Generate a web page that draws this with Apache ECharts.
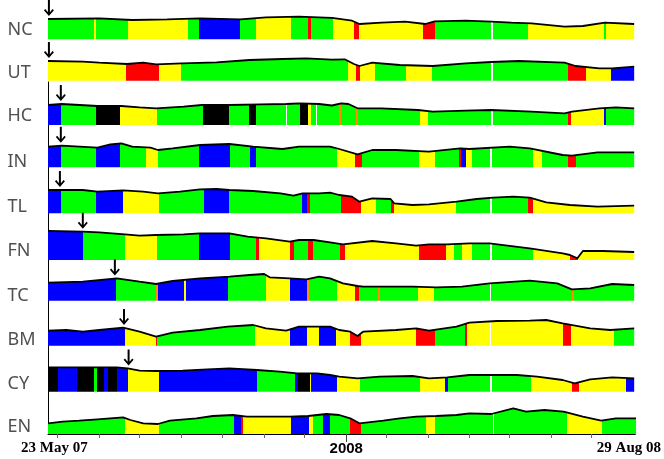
<!DOCTYPE html>
<html>
<head>
<meta charset="utf-8">
<script src="https://cdn.jsdelivr.net/npm/echarts@6/dist/echarts.min.js"></script>
<style>
  html, body { margin: 0; padding: 0; background: #fff; }
  #chart { width: 664px; height: 459px; }
</style>
</head>
<body>
<div id="chart"></div>
<script>
// trading-day index (0 = 23 May 07, 321 = 29 Aug 08) and index level
const rowNames = ['NC', 'UT', 'HC', 'IN', 'TL', 'FN', 'TC', 'BM', 'CY', 'EN'];

const ncLine = [[0,20.3],[28,21],[46,19.3],[65,20],[83,21],[105,20],[119,22],[137,22.6],[155,21.5],[166,18.6],[170,15.3],[182,16.6],[195,17.6],[206,15.3],[211,18],[228,18.6],[242,17.6],[253,16.6],[264,16],[282,12.6],[292,13.3],[304,16.6],[320,15.3]];
const utLine = [[0,19.7],[19,19],[28,18],[43,16.7],[52,18],[59,16.4],[73,17.4],[92,18.4],[110,20.7],[128,21.7],[141,22.4],[155,21],[162,21.4],[167,16.7],[170,14.7],[177,18],[192,15.7],[210,14.7],[228,17.4],[242,18.7],[257,19.7],[282,18],[288,14.7],[301,12.4],[308,12.4],[320,14]];
const hcLine = [[0,20],[7.5,21],[27,19],[40,19],[50,17.7],[59,16.7],[74,18.3],[84,20],[99,20],[116,20.7],[130,21],[137,21.7],[148,21],[155,19.5],[160,21.7],[164,21],[169,16.7],[182,16.7],[202,15],[210,13.3],[228,14.3],[242,15],[264,13.3],[282,11.7],[286,13.3],[301,16.7],[310,17.7],[320,16.7]];
const inLine = [[0,20.6],[7.5,21.6],[27,19.6],[34,23],[40,24],[46,20.6],[56,19.6],[60,17.3],[68,19],[83,22.3],[99,23.3],[112,20.6],[128,18.3],[137,20.6],[148,20.6],[154,20.6],[159,18.3],[169,13],[177,17.3],[190,17.3],[208,15.6],[225,19],[230,18.3],[252,20.6],[263,19],[281,12.3],[286,11.6],[300,15],[320,15]];
const tlLine = [[0,23.3],[7.5,23.3],[19,23.3],[27,21.6],[41,23],[52,21.6],[60,20],[72,21.6],[83,24],[92,24.3],[99,23.3],[112,22.3],[127,20],[134,17.6],[139,20],[148,20],[154,20.6],[159,18.3],[166,16.6],[170,11.6],[177,15],[187,14.3],[189,10],[199,8.3],[208,9],[223,11.6],[234,14.3],[243,15.6],[254,16.6],[263,15.6],[272,11],[285,8.3],[300,6.6],[320,7.6]];
const fnLine = [[0,29],[19,28.3],[28,27.7],[42,25.7],[50,24.3],[59,25],[74,25.7],[83,26.7],[99,26.7],[109,23.3],[119,21.7],[132,18.3],[137,20],[145,20],[154,17.7],[161,15.7],[177,19],[190,16.7],[201,14.3],[208,15.7],[218,15.7],[230,16.7],[241,16.7],[263,11.7],[281,6.7],[285,5],[289,1.7],[292,9],[303,9],[320,8]];
const tcLine = [[0,18],[19,19],[37.5,22.4],[50,19],[59,16.7],[68,19.7],[83,22.4],[99,24],[110,25.7],[118,26.7],[121,23.4],[132,22.4],[141,21.4],[148,24],[154,22.4],[161,17.4],[169,14.7],[172,14],[181,14],[199,14],[212,13.4],[226,14],[241,17.4],[263,20],[278,17.4],[286,11.4],[296,12.4],[308,16.7],[320,15.7]];
const bmLine = [[0,15],[10,15.7],[19,14],[28,15.7],[41,18],[50,14],[59,9],[68,13],[83,15.7],[98,19],[112,20.7],[119,17.4],[130,15],[137,19],[148,19],[154,19],[159,15.7],[165,14],[169,9.7],[172,14],[190,15.7],[201,17.4],[208,15],[223,19],[230,23],[245,24.7],[263,25],[272,25.7],[281,22.4],[296,17.4],[307,15.7],[320,17.4]];
const cyLine = [[0,24.4],[19,24.4],[37.5,24.4],[43.5,23.4],[50,21],[59,20.7],[73.5,21],[87,22.4],[99,23.4],[114,21.7],[126.5,20],[136,18.4],[147,18.4],[154,16.7],[159,15],[169,13.4],[181,15],[199,15.7],[208,13.4],[218,14.4],[230,16.7],[243,16.7],[256,16.7],[267,15],[281,11.7],[287.5,8.4],[296,12.4],[308,14.4],[320,13.4]];
const enLine = [[0,10.7],[8,12.3],[17,13.3],[27,14.7],[41,16.7],[45,14],[52,10.7],[60,10],[66.5,13.3],[81,15.7],[90,18],[101,19],[108.5,17.3],[121,17.3],[132,17.3],[142,18],[152,20],[159,19],[165,15.7],[170,10.7],[183,13.3],[192,15.7],[201,17.3],[212,18],[223,19],[230,20.7],[242,20],[254,25.7],[261,22.3],[271,24],[281.5,22.3],[292,17.3],[302,13.3],[310,15.7],[321,15.7]];

// regimes: [day where the segment ends, colour code]
const ncRegimes = [[25,'G'],[26.4,'Y'],[43.5,'G'],[76.3,'Y'],[82.3,'G'],[104.6,'B'],[113.4,'G'],[132.5,'Y'],[141.8,'G'],[143.4,'R'],[155.8,'G'],[167.3,'Y'],[169.8,'R'],[204.6,'Y'],[211,'R'],[241.9,'G'],[242.8,'W'],[261.9,'G'],[303.6,'Y'],[304.7,'G'],[321,'Y']];
const utRegimes = [[42.8,'Y'],[60.4,'R'],[72.5,'Y'],[163.6,'G'],[168,'Y'],[170.2,'R'],[178.5,'Y'],[195.3,'G'],[209.9,'Y'],[241.9,'G'],[242.8,'W'],[283.7,'G'],[293.6,'R'],[307.2,'Y'],[321,'B']];
const hcRegimes = [[7.3,'B'],[26.4,'G'],[39.5,'K'],[59.7,'Y'],[84.6,'G'],[98.8,'K'],[109.7,'G'],[113.4,'K'],[129.8,'G'],[130.5,'W'],[137.4,'G'],[142,'K'],[143.4,'Y'],[146.5,'G'],[147.1,'W'],[158.6,'G'],[159.7,'O'],[168,'G'],[169.5,'O'],[203,'G'],[207.7,'Y'],[241.9,'G'],[242.8,'W'],[283.7,'G'],[285.6,'R'],[303.4,'Y'],[304.5,'B'],[321,'G']];
const inRegimes = [[7.3,'B'],[26.4,'G'],[39.5,'B'],[53.7,'G'],[60,'Y'],[82.4,'G'],[99.2,'B'],[110.5,'G'],[113.4,'B'],[157.8,'G'],[167.5,'Y'],[171.4,'R'],[202.6,'G'],[211.1,'Y'],[224.4,'G'],[225.7,'R'],[228.1,'B'],[231.2,'Y'],[241.5,'G'],[242.4,'W'],[264.8,'G'],[269.9,'Y'],[283.9,'G'],[288.5,'R'],[321,'G']];
const tlRegimes = [[7.3,'B'],[26.4,'G'],[40.9,'B'],[60.4,'Y'],[85,'G'],[98.6,'B'],[138.5,'G'],[141.4,'B'],[142.9,'R'],[159.8,'G'],[170.6,'R'],[179.3,'Y'],[187.5,'G'],[188.7,'R'],[222.6,'Y'],[241.5,'G'],[242.4,'W'],[261.9,'G'],[264.8,'R'],[321,'Y']];
const fnRegimes = [[19.1,'B'],[41.9,'G'],[59.7,'Y'],[82.4,'G'],[99.2,'B'],[113.4,'G'],[115.2,'R'],[132,'Y'],[134.2,'R'],[142,'G'],[144.7,'R'],[159.3,'G'],[162,'R'],[202.6,'Y'],[217.2,'R'],[221.6,'Y'],[226.1,'G'],[231.2,'Y'],[241.5,'G'],[242.4,'W'],[264.8,'G'],[284.8,'Y'],[289.3,'R'],[321,'Y']];
const tcRegimes = [[37.3,'B'],[59.2,'G'],[60.3,'O'],[74.1,'B'],[75.6,'Y'],[98.3,'B'],[118.9,'G'],[132.3,'Y'],[141.4,'B'],[142.5,'O'],[157.5,'G'],[167.4,'Y'],[169.8,'R'],[179.9,'G'],[181.1,'O'],[202,'G'],[210.6,'Y'],[241.2,'G'],[242.1,'W'],[285.8,'G'],[287.2,'O'],[321,'G']];
const bmRegimes = [[41.9,'B'],[58.8,'Y'],[59.5,'R'],[112.9,'G'],[132,'Y'],[141.4,'B'],[148,'Y'],[157.1,'B'],[164.7,'Y'],[170.6,'R'],[201.1,'Y'],[211.1,'R'],[227.5,'G'],[228.8,'R'],[241.2,'Y'],[242.1,'W'],[281,'Y'],[285.4,'R'],[309,'Y'],[321,'G']];
const cyRegimes = [[5.6,'K'],[15.9,'B'],[25.2,'K'],[26.5,'G'],[30.7,'K'],[32.5,'B'],[37.5,'K'],[43.7,'B'],[60.6,'Y'],[114.2,'B'],[135.1,'G'],[136.6,'B'],[142.9,'K'],[143.8,'Y'],[157.8,'B'],[170.2,'Y'],[202.9,'G'],[217,'Y'],[218.1,'B'],[241.5,'G'],[242.4,'W'],[263.9,'G'],[285.8,'Y'],[289.9,'R'],[315.4,'Y'],[321,'B']];
const enRegimes = [[41.9,'G'],[60.6,'Y'],[101.4,'G'],[105.2,'B'],[106.5,'R'],[132.9,'Y'],[142.5,'B'],[144.4,'Y'],[150.2,'G'],[153.8,'B'],[164.7,'G'],[171.1,'R'],[206.2,'G'],[211.1,'Y'],[242.9,'G'],[243.6,'W'],[283.4,'G'],[302.5,'Y'],[321,'G']];

// detected change points (arrows), null = none
const arrowDays = [0.5, 0.5, 7, 7, 6.5, 19, 36.5, 41.5, 44, null];

const tickDays = [5, 28, 50, 73, 95, 118, 140, 163, 185, 208, 230, 252, 275, 297];
const labelDays = [3.5, 163, 317.5];
const tickLabels = ['23 May 07', '2008', '29 Aug 08'];

const lines = [ncLine, utLine, hcLine, inLine, tlLine, fnLine, tcLine, bmLine, cyLine, enLine];
const regimes = [ncRegimes, utRegimes, hcRegimes, inRegimes, tlRegimes, fnRegimes, tcRegimes, bmRegimes, cyRegimes, enRegimes];

// layout
const rowBottoms = [39.3, 80.7, 125, 167.3, 213.3, 260, 300.7, 345.7, 391.7, 434];
const labelCenters = [29.5, 73, 116, 161.7, 206.5, 250.5, 295.5, 339.5, 383.5, 427];
const palette = { G: '#00ff00', Y: '#ffff00', B: '#0000ff', R: '#ff0000', K: '#000000', O: '#ff8c00', W: '#ffffff' };
const plotLeft = 48, plotWidth = 588, rowH = 36, dayMax = 321;
const arrowPath = 'path://M4,0 L6,0 L6,12.2 L8.6,9 L10,10.2 L5,16 L0,10.2 L1.4,9 L4,12.2 Z';

// level of a row's line at a given day (for placing the arrow above it)
function levelAt(line, day) {
    for (let k = 1; k < line.length; k++) {
        if (line[k][0] >= day) {
            const a = line[k - 1], b = line[k];
            return a[1] + (b[1] - a[1]) * (day - a[0]) / (b[0] - a[0]);
        }
    }
    return line[line.length - 1][1];
}

const chart = echarts.init(document.getElementById('chart'));

const grid = rowBottoms.map(b => ({ left: plotLeft, width: plotWidth, top: b - rowH, height: rowH }));
grid.push({ left: plotLeft, width: plotWidth, top: 82, height: 434 - 82 });
const frame = grid.length - 1;

const xAxis = rowBottoms.map((b, i) => ({ gridIndex: i, type: 'value', min: 0, max: dayMax, show: false }));
const yAxis = rowBottoms.map((b, i) => ({ gridIndex: i, type: 'value', min: 0, max: rowH, show: false }));

const bottomAxis = { gridIndex: frame, type: 'value', min: 0, max: dayMax, position: 'bottom', splitLine: { show: false } };
xAxis.push(Object.assign({}, bottomAxis, {
    axisLine: { show: true, lineStyle: { color: '#000', width: 1 } },
    axisTick: { show: true, customValues: tickDays, length: 4, lineStyle: { color: '#666' } },
    axisLabel: {
        show: true, customValues: labelDays, margin: 7,
        formatter: v => {
            const k = labelDays.findIndex(d => Math.abs(d - v) < 0.01);
            return k === 1 ? '{y|' + tickLabels[k] + '}' : '{d|' + tickLabels[k] + '}';
        },
        rich: {
            d: { fontFamily: 'Liberation Serif', fontWeight: 'bold', fontSize: 15, color: '#000' },
            y: { fontFamily: 'Liberation Sans', fontWeight: 'bold', fontSize: 15, color: '#000' }
        }
    }
}));
xAxis.push(Object.assign({}, bottomAxis, {
    axisLine: { show: false }, axisLabel: { show: false },
    axisTick: { show: true, inside: true, customValues: tickDays, length: 3, lineStyle: { color: '#666' } }
}));
xAxis.push(Object.assign({}, bottomAxis, {
    axisLine: { show: false }, axisLabel: { show: false },
    axisTick: { show: true, customValues: [tickDays[7]], length: 8, lineStyle: { color: '#444' } }
}));
xAxis.push(Object.assign({}, bottomAxis, {
    axisLine: { show: false }, axisLabel: { show: false },
    axisTick: { show: true, inside: true, customValues: [tickDays[7]], length: 7, lineStyle: { color: '#444' } }
}));
yAxis.push({
    gridIndex: frame, type: 'value', min: 0, max: 1,
    axisLine: { show: true, lineStyle: { color: '#000', width: 1 } },
    axisTick: { show: false }, axisLabel: { show: false }, splitLine: { show: false }
});

const series = lines.map((line, i) => ({
    type: 'line',
    xAxisIndex: i,
    yAxisIndex: i,
    data: line,
    symbol: 'none',
    silent: true,
    lineStyle: { color: '#000', width: 1.8 },
    areaStyle: { opacity: 1 },
    markPoint: arrowDays[i] === null ? undefined : {
        symbol: arrowPath,
        symbolSize: [10, 16],
        symbolOffset: [0, '-50%'],
        itemStyle: { color: '#000' },
        label: { show: false },
        data: [{ coord: [arrowDays[i], levelAt(line, arrowDays[i]) + 3] }]
    }
}));

const visualMap = regimes.map((segs, i) => ({
    show: false,
    type: 'piecewise',
    seriesIndex: i,
    dimension: 0,
    pieces: segs.map((s, k) => ({
        gte: k === 0 ? -50 : segs[k - 1][0],
        lt: k === segs.length - 1 ? 500 : s[0],
        color: palette[s[1]]
    }))
}));

const title = rowNames.map((name, i) => ({
    text: name,
    left: 7.5,
    top: labelCenters[i] - 11,
    padding: 0,
    textStyle: { fontFamily: 'Noto Sans', fontSize: 18, fontWeight: 'normal', color: '#505050', lineHeight: 22 }
}));

const option = {
    animation: false,
    backgroundColor: '#fff',
    title,
    grid,
    xAxis,
    yAxis,
    visualMap,
    series
};
chart.setOption(option);
</script>
</body>
</html>
